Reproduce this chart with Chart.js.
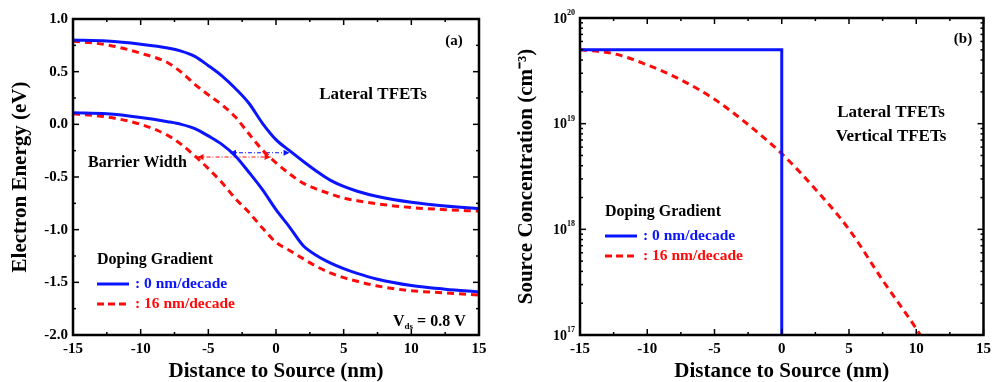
<!DOCTYPE html>
<html><head><meta charset="utf-8">
<script src="https://cdn.jsdelivr.net/npm/chart.js@4/dist/chart.umd.min.js"></script>
<style>
html,body{margin:0;padding:0;background:#fff;}
#wrap{position:relative;width:996px;height:382px;}
canvas{position:absolute;top:0;}
</style></head><body>
<div id="wrap">
<canvas id="ca" width="500" height="382" style="left:0;width:500px;height:382px"></canvas>
<canvas id="cb" width="496" height="382" style="left:500px;width:496px;height:382px"></canvas>
</div>
<script>
// ---------- Panel (a) data ----------
const distA = [-15,-12.5,-10,-8,-7,-6,-5,-4,-3,-2,-1,0,1,2,3,4,5,6,7.5,10,12.5,15];
const ecAbrupt = [0.80,0.79,0.76,0.725,0.695,0.645,0.557,0.46,0.34,0.20,0.01,-0.145,-0.25,-0.35,-0.445,-0.53,-0.59,-0.635,-0.685,-0.74,-0.775,-0.80];
const ecGraded = [0.79,0.755,0.675,0.585,0.495,0.38,0.28,0.186,0.069,-0.09,-0.244,-0.365,-0.47,-0.558,-0.615,-0.66,-0.70,-0.725,-0.755,-0.79,-0.81,-0.825];
const evAbrupt = [0.11,0.10,0.065,0.025,0.00,-0.04,-0.11,-0.19,-0.30,-0.455,-0.62,-0.81,-0.975,-1.15,-1.245,-1.315,-1.37,-1.415,-1.47,-1.53,-1.565,-1.59];
const evGraded = [0.10,0.07,0.00,-0.105,-0.19,-0.30,-0.42,-0.553,-0.705,-0.835,-0.985,-1.12,-1.197,-1.275,-1.35,-1.41,-1.455,-1.49,-1.535,-1.58,-1.60,-1.62];
const barrierAbruptX = [-3.4, 1.0];
const barrierAbruptY = [-0.27, -0.27];
const barrierGradedX = [-5.8, -0.4];
const barrierGradedY = [-0.31, -0.31];
const yTicksA = [-2.0,-1.5,-1.0,-0.5,0.0,0.5,1.0];
const xTicks = [-15,-10,-5,0,5,10,15];

// ---------- Panel (b) data ----------
const distBGraded = [-15,-12.5,-10,-7.5,-5,-2.5,0,2.5,5,7.5,10,10.3];
const concGraded = [5.0e19,4.6e19,3.6e19,2.6e19,1.7e19,9.8e18,5.2e18,2.4e18,1.0e18,3.3e17,1.15e17,1.0e17];
const distBAbrupt = [-15,0,0];
const concAbrupt = [5e19,5e19,1e17];
const yTicksB = [1e17,1e18,1e19,1e20];

const BLUE = '#0a14ff', RED = '#ff0a0a';
const FONT = "'Liberation Serif','Times New Roman',serif";
const pts = (xs, ys) => xs.map((x,i)=>({x:x,y:ys[i]}));

function frameTicks(chart, majorY, minorX, minorY) {
  const ctx = chart.ctx, a = chart.chartArea;
  const xs = chart.scales.x, ys = chart.scales.y;
  ctx.save();
  ctx.setLineDash([]);
  ctx.globalAlpha = 1;
  ctx.strokeStyle = '#000000';
  ctx.lineWidth = 1.5;
  const seg = (px, py, dx, dy) => { ctx.beginPath(); ctx.moveTo(px,py); ctx.lineTo(px+dx,py+dy); ctx.stroke(); };
  xTicks.forEach(v => { const p = xs.getPixelForValue(v); seg(p,a.bottom,0,-6); seg(p,a.top,0,6); });
  minorX.forEach(v => { const p = xs.getPixelForValue(v); seg(p,a.bottom,0,-3); seg(p,a.top,0,3); });
  majorY.forEach(v => { const p = ys.getPixelForValue(v); seg(a.left,p,6,0); seg(a.right,p,-6,0); });
  minorY.forEach(v => { const p = ys.getPixelForValue(v); seg(a.left,p,3,0); seg(a.right,p,-3,0); });
  ctx.lineWidth = 2.5;
  ctx.beginPath();
  ctx.rect(a.left, a.top, a.right-a.left, a.bottom-a.top);
  ctx.stroke();
  ctx.restore();
}

function legend(ctx, x, y) {
  ctx.save();
  ctx.font = "bold 16px " + FONT;
  ctx.fillStyle = '#000';
  ctx.textBaseline = 'middle';
  ctx.textAlign = 'left';
  ctx.fillText('Doping Gradient', x, y);
  ctx.lineWidth = 3;
  ctx.strokeStyle = BLUE;
  ctx.setLineDash([]);
  ctx.beginPath(); ctx.moveTo(x, y+24); ctx.lineTo(x+32, y+24); ctx.stroke();
  ctx.font = "bold 15.5px " + FONT;
  ctx.fillStyle = BLUE;
  ctx.fillText(': 0 nm/decade', x+38, y+24);
  ctx.strokeStyle = RED; ctx.setLineDash([7,4]);
  ctx.beginPath(); ctx.moveTo(x, y+44); ctx.lineTo(x+32, y+44); ctx.stroke();
  ctx.setLineDash([]);
  ctx.fillStyle = RED;
  ctx.fillText(': 16 nm/decade', x+38, y+44);
  ctx.restore();
}

function arrowHeads(chart, dsIndex, color) {
  const meta = chart.getDatasetMeta(dsIndex);
  const p0 = meta.data[0], p1 = meta.data[1];
  const ctx = chart.ctx;
  ctx.save(); ctx.fillStyle = color;
  const head = (x, y, dir) => { ctx.beginPath(); ctx.moveTo(x,y); ctx.lineTo(x-dir*6,y-3); ctx.lineTo(x-dir*6,y+3); ctx.closePath(); ctx.fill(); };
  head(p0.x, p0.y, -1); head(p1.x, p1.y, 1);
  ctx.restore();
}

function safe(chart, fn) {
  try { fn(); } catch (e) {
    const c = chart.ctx; c.save(); c.fillStyle='#f0f'; c.font='12px sans-serif'; c.fillText(String(e), 100, 200); c.restore();
  }
}

const commonX = (title) => ({
  type:'linear', min:-15, max:15,
  afterBuildTicks: s => { s.ticks = xTicks.map(v=>({value:v})); },
  grid:{display:false, drawTicks:false}, border:{display:false},
  ticks:{color:'#000', font:{family:FONT, size:15, weight:'bold'}, padding:5, maxRotation:0, autoSkip:false},
  title:{display:true, text:title, color:'#000', font:{family:FONT, size:21, weight:'bold', lineHeight:1.0}, padding:{top:0,bottom:0}},
  afterFit: s => { s.height = 47; }
});

// ---------- Chart (a) ----------
new Chart(document.getElementById('ca'), {
  type:'line',
  data:{datasets:[
    {data:pts(distA, ecAbrupt), borderColor:BLUE, borderWidth:3, pointRadius:0, cubicInterpolationMode:'monotone'},
    {data:pts(distA, ecGraded), borderColor:RED, borderWidth:3, borderDash:[7,5], pointRadius:0, cubicInterpolationMode:'monotone'},
    {data:pts(distA, evAbrupt), borderColor:BLUE, borderWidth:3, pointRadius:0, cubicInterpolationMode:'monotone'},
    {data:pts(distA, evGraded), borderColor:RED, borderWidth:3, borderDash:[7,5], pointRadius:0, cubicInterpolationMode:'monotone'},
    {data:pts(barrierAbruptX, barrierAbruptY), borderColor:BLUE, borderWidth:1.2, borderDash:[4,2,1,2], pointRadius:0},
    {data:pts(barrierGradedX, barrierGradedY), borderColor:RED, borderWidth:1.2, borderDash:[4,2,1,2], pointRadius:0}
  ]},
  options:{
    responsive:false, animation:false, devicePixelRatio:1,
    layout:{padding:{top:19, right:21, left:0, bottom:0}},
    plugins:{legend:{display:false}, tooltip:{enabled:false}},
    scales:{
      x: commonX('Distance to Source (nm)'),
      y:{type:'linear', min:-2, max:1,
        afterBuildTicks: s => { s.ticks = yTicksA.map(v=>({value:v})); },
        grid:{display:false, drawTicks:false}, border:{display:false},
        ticks:{color:'#000', font:{family:FONT, size:15, weight:'bold'}, padding:5, callback:v=>Number(v).toFixed(1)},
        title:{display:true, text:'Electron Energy (eV)', color:'#000', font:{family:FONT, size:21, weight:'bold'}, padding:{top:8,bottom:0}},
        afterFit: s => { s.width = 73; }
      }
    }
  },
  plugins:[{
    id:'decorA',
    afterDraw(chart){
      const ctx = chart.ctx;
      safe(chart, () => {
        const minX=[], minY=[];
        for(let v=-12.5; v<15; v+=5) minX.push(v);
        for(let v=-1.75; v<1; v+=0.5) minY.push(v);
        frameTicks(chart, yTicksA, minX, minY);
      });
      safe(chart, () => { arrowHeads(chart, 4, BLUE); arrowHeads(chart, 5, RED); });
      ctx.save(); ctx.fillStyle='#000'; ctx.textBaseline='middle';
      ctx.font = "bold 15px " + FONT; ctx.textAlign='center';
      ctx.fillText('(a)', 454, 41);
      ctx.font = "bold 17px " + FONT;
      ctx.fillText('Lateral TFETs', 373, 95);
      ctx.font = "bold 16px " + FONT; ctx.textAlign='left';
      ctx.fillText('Barrier Width', 88, 163);
      ctx.font = "bold 16px " + FONT;
      ctx.fillText('V', 393, 322);
      const w = ctx.measureText('V').width;
      ctx.font = "bold 9px " + FONT;
      ctx.fillText('ds', 393+w, 327);
      const w2 = ctx.measureText('ds').width;
      ctx.font = "bold 16px " + FONT;
      ctx.fillText(' = 0.8 V', 393+w+w2, 322);
      ctx.restore();
      legend(ctx, 97, 260);
    }
  }]
});

// ---------- Chart (b) ----------
new Chart(document.getElementById('cb'), {
  type:'line',
  data:{datasets:[
    {data:pts(distBAbrupt, concAbrupt), borderColor:BLUE, borderWidth:3, pointRadius:0, tension:0},
    {data:pts(distBGraded, concGraded), borderColor:RED, borderWidth:3, borderDash:[7,5], pointRadius:0, cubicInterpolationMode:'monotone'}
  ]},
  options:{
    responsive:false, animation:false, devicePixelRatio:1,
    layout:{padding:{top:18, right:8, left:0, bottom:0}},
    plugins:{legend:{display:false}, tooltip:{enabled:false}},
    scales:{
      x: commonX('Distance to Source (nm)'),
      y:{type:'logarithmic', min:1e17, max:1e20,
        afterBuildTicks: s => { s.ticks = yTicksB.map(v=>({value:v})); },
        grid:{display:false, drawTicks:false}, border:{display:false},
        ticks:{display:false},
        title:{display:true, text:'Source Concentration (cm\u207B\u00B3)', color:'#000', font:{family:FONT, size:21, weight:'bold'}, padding:{top:14,bottom:0}},
        afterFit: s => { s.width = 80; }
      }
    }
  },
  plugins:[{
    id:'decorB',
    afterDraw(chart){
      const ctx = chart.ctx;
      safe(chart, () => {
        const minX=[], minY=[];
        for(let v=-12.5; v<15; v+=5) minX.push(v);
        for(let e=17; e<20; e++) for(let m=2; m<10; m++) minY.push(m*Math.pow(10,e));
        frameTicks(chart, yTicksB, minX, minY);
      });
      // power-of-ten tick labels with superscript exponents
      const ys = chart.scales.y, a = chart.chartArea;
      ctx.save(); ctx.fillStyle='#000'; ctx.textBaseline='middle'; ctx.textAlign='left';
      yTicksB.forEach(v => {
        const p = ys.getPixelForValue(v);
        const exp = String(Math.round(Math.log10(v)));
        ctx.font = "bold 8px " + FONT;
        const we = ctx.measureText(exp).width;
        ctx.font = "bold 14px " + FONT;
        const wb = ctx.measureText('10').width;
        const x0 = a.left - 5 - we - wb;
        ctx.fillText('10', x0, p + 1);
        ctx.font = "bold 8px " + FONT;
        ctx.fillText(exp, x0 + wb, p - 5);
      });
      ctx.textAlign='center';
      ctx.font = "bold 15px " + FONT;
      ctx.fillText('(b)', 463, 39);
      ctx.font = "bold 17px " + FONT;
      ctx.fillText('Lateral TFETs', 391, 113);
      ctx.fillText('Vertical TFETs', 391, 137);
      ctx.restore();
      legend(ctx, 105, 212);
    }
  }]
});
</script>
</body></html>
